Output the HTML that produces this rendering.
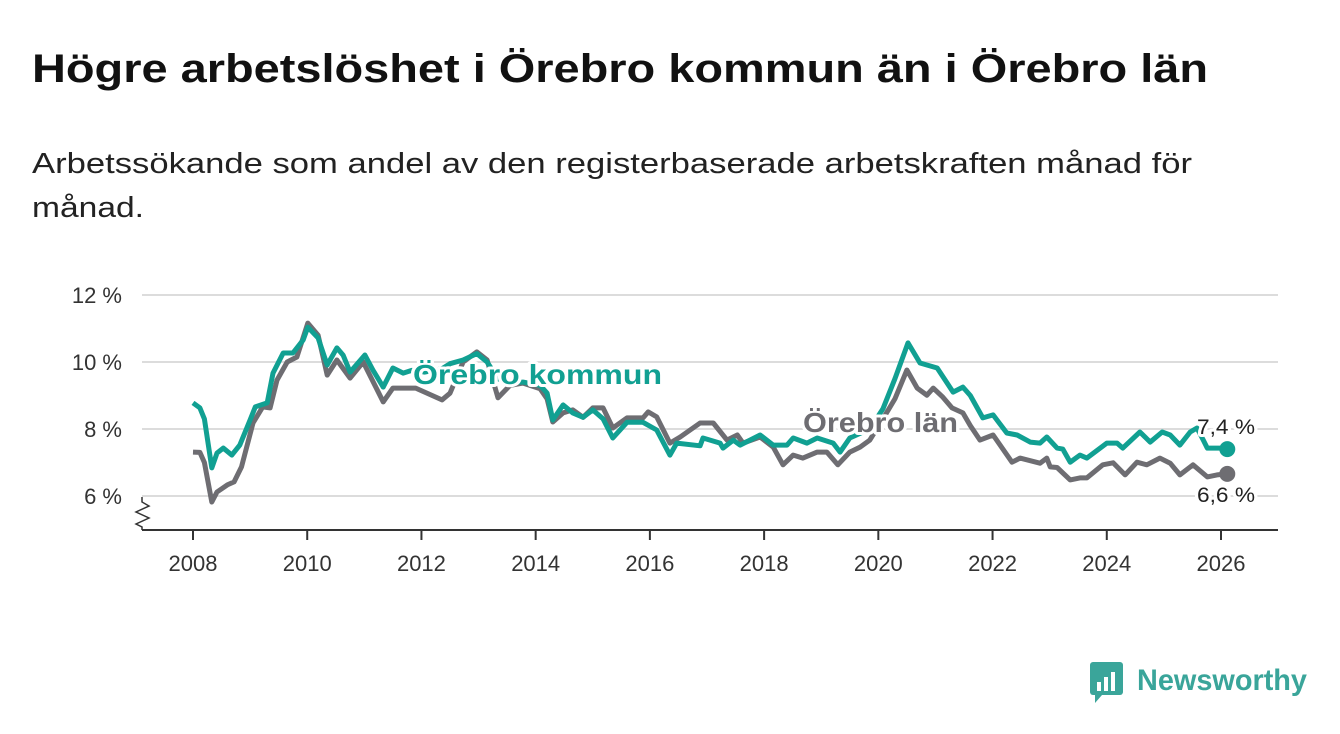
<!DOCTYPE html>
<html><head><meta charset="utf-8"><style>
html,body{margin:0;padding:0;background:#fff;}
svg{display:block;font-family:"Liberation Sans","DejaVu Sans",sans-serif;}
</style></head><body>
<svg id="chart" width="1340" height="734" viewBox="0 0 1340 734">
<text x="32" y="82" font-size="40" font-weight="bold" fill="#111" textLength="1176" lengthAdjust="spacingAndGlyphs">Högre arbetslöshet i Örebro kommun än i Örebro län</text>
<text x="32" y="173" font-size="29" fill="#222" textLength="1160" lengthAdjust="spacingAndGlyphs">Arbetssökande som andel av den registerbaserade arbetskraften månad för</text>
<text x="32" y="217" font-size="29" fill="#222" textLength="112" lengthAdjust="spacingAndGlyphs">månad.</text>
<g id="grid"></g><g id="axes"></g><g id="lines"></g><g id="labels"></g>
<g>
<rect x="1090" y="662" width="33" height="33" rx="3" fill="#3aa59a"/>
<polygon points="1095,695 1102,695 1095,703" fill="#3aa59a"/>
<rect x="1097" y="682" width="4" height="9" fill="#fff"/><rect x="1104" y="677" width="4" height="14" fill="#fff"/><rect x="1111" y="672" width="4" height="19" fill="#fff"/>
<text x="1137" y="690" font-size="30" font-weight="bold" fill="#3aa59a" textLength="170" lengthAdjust="spacingAndGlyphs">Newsworthy</text>
</g>
</svg>
<script>
const yTicks=[6,8,10,12];
const yTickLabels=["6 %","8 %","10 %","12 %"];
const xTicks=[2008,2010,2012,2014,2016,2018,2020,2022,2024,2026];
const kommunYears=[2008.0,2008.12,2008.2,2008.33,2008.42,2008.53,2008.68,2008.82,2009.0,2009.09,2009.30,2009.40,2009.58,2009.75,2009.93,2010.01,2010.19,2010.35,2010.52,2010.63,2010.75,2011.01,2011.15,2011.33,2011.50,2011.68,2011.83,2012.06,2012.36,2012.5,2012.73,2012.97,2013.15,2013.34,2013.55,2013.78,2014.08,2014.20,2014.30,2014.48,2014.65,2014.83,2015.0,2015.18,2015.35,2015.6,2015.88,2016.12,2016.35,2016.47,2016.88,2016.93,2017.23,2017.28,2017.46,2017.58,2017.93,2018.16,2018.40,2018.51,2018.75,2018.93,2019.21,2019.33,2019.50,2019.85,2020.08,2020.29,2020.52,2020.73,2021.03,2021.31,2021.48,2021.61,2021.83,2022.01,2022.25,2022.43,2022.66,2022.83,2022.95,2023.13,2023.23,2023.36,2023.53,2023.65,2024.0,2024.18,2024.28,2024.58,2024.76,2024.97,2025.11,2025.28,2025.46,2025.58,2025.69,2025.76,2025.98,2026.11];
const kommunValues=[8.78,8.63,8.3,6.84,7.28,7.43,7.22,7.52,8.27,8.66,8.78,9.67,10.27,10.27,10.66,11.04,10.72,9.91,10.42,10.2,9.70,10.21,9.76,9.25,9.82,9.67,9.75,9.7,9.8,9.95,10.06,10.25,10.0,9.5,9.4,9.4,9.3,9.07,8.27,8.72,8.48,8.35,8.57,8.3,7.73,8.2,8.2,7.97,7.22,7.58,7.5,7.73,7.58,7.43,7.67,7.52,7.82,7.52,7.52,7.73,7.58,7.73,7.58,7.31,7.73,8.0,8.6,9.5,10.57,9.97,9.82,9.1,9.25,9.0,8.33,8.42,7.88,7.82,7.61,7.58,7.76,7.43,7.4,7.01,7.22,7.13,7.58,7.58,7.43,7.91,7.61,7.91,7.82,7.52,7.91,8.03,7.67,7.43,7.43,7.40];
const lanYears=[2008.0,2008.12,2008.2,2008.33,2008.42,2008.6,2008.72,2008.85,2009.05,2009.22,2009.35,2009.47,2009.65,2009.82,2010.01,2010.19,2010.35,2010.52,2010.75,2010.98,2011.33,2011.5,2011.9,2012.36,2012.5,2012.73,2012.97,2013.15,2013.34,2013.55,2013.78,2014.08,2014.2,2014.30,2014.48,2014.65,2014.83,2015.0,2015.18,2015.35,2015.6,2015.88,2015.97,2016.12,2016.35,2016.53,2016.88,2017.11,2017.35,2017.53,2017.63,2017.93,2018.16,2018.33,2018.51,2018.68,2018.93,2019.10,2019.29,2019.50,2019.68,2019.85,2020.08,2020.29,2020.50,2020.68,2020.85,2020.96,2021.13,2021.29,2021.48,2021.61,2021.78,2022.01,2022.34,2022.48,2022.83,2022.95,2023.01,2023.13,2023.36,2023.53,2023.65,2023.93,2024.11,2024.32,2024.53,2024.70,2024.93,2025.11,2025.28,2025.51,2025.76,2025.93,2026.11];
const lanValues=[7.31,7.3,7.0,5.82,6.12,6.33,6.42,6.87,8.18,8.66,8.63,9.46,10.0,10.15,11.16,10.8,9.61,10.06,9.52,10.0,8.81,9.22,9.22,8.87,9.07,10.0,10.3,10.06,8.93,9.3,9.37,9.2,8.9,8.21,8.48,8.57,8.35,8.63,8.63,8.03,8.33,8.33,8.51,8.36,7.58,7.76,8.18,8.18,7.67,7.82,7.58,7.76,7.46,6.93,7.22,7.13,7.31,7.31,6.93,7.31,7.46,7.67,8.3,8.9,9.76,9.22,9.01,9.22,8.95,8.63,8.48,8.1,7.67,7.82,7.01,7.13,6.98,7.13,6.87,6.85,6.48,6.54,6.54,6.93,6.99,6.63,7.01,6.93,7.13,6.98,6.63,6.93,6.57,6.63,6.66];

const NS='http://www.w3.org/2000/svg';
function X(yr){return 193+(yr-2008)*(1028/18);}
function Y(v){return 496-(v-6)*33.5;}
function mk(tag,attrs,parent){const e=document.createElementNS(NS,tag);for(const k in attrs)e.setAttribute(k,attrs[k]);parent.appendChild(e);return e;}
const grid=document.getElementById('grid'),axes=document.getElementById('axes'),lines=document.getElementById('lines'),labels=document.getElementById('labels');
yTicks.forEach((t,i)=>{
  const l=mk('line',{x1:142,x2:1278,y1:Y(t),y2:Y(t),stroke:'#dcdcdc','stroke-width':2},grid);
  
  
  const tx=mk('text',{x:122,y:Y(t)+8,'font-size':22,fill:'#333','text-anchor':'end'},axes);
  tx.textContent=yTickLabels[i];
  
  
});
const ax=mk('line',{x1:142,x2:1278,y1:530,y2:530,stroke:'#333','stroke-width':2},axes);


const br=mk('polyline',{points:'142,497 142,502 149,506 136,512 149,518 136,524 142,527 142,530',fill:'none',stroke:'#333','stroke-width':1.5},axes);


xTicks.forEach(t=>{
  mk('line',{x1:X(t),x2:X(t),y1:530,y2:540,stroke:'#333','stroke-width':2},axes);
  const tx=mk('text',{x:X(t),y:571,'font-size':22,fill:'#333','text-anchor':'middle'},axes);
  tx.textContent=t;
  
  
});
function path(ys,vs){return ys.map((y,i)=>(i?'L':'M')+X(y).toFixed(1)+','+Y(vs[i]).toFixed(1)).join('');}
const gl=mk('path',{d:path(lanYears,lanValues),fill:'none',stroke:'#6e6d72','stroke-width':5,'stroke-linejoin':'round'},lines);


const tl=mk('path',{d:path(kommunYears,kommunValues),fill:'none',stroke:'#11a092','stroke-width':5,'stroke-linejoin':'round'},lines);


const gLast=lanYears.length-1,kLast=kommunYears.length-1;
const gd=mk('circle',{cx:X(lanYears[gLast]),cy:Y(lanValues[gLast]),r:8,fill:'#6e6d72'},lines);


const kd=mk('circle',{cx:X(kommunYears[kLast]),cy:Y(kommunValues[kLast]),r:8,fill:'#11a092'},lines);


function lab(txt,x,y,size,color,weight,name,len){
  const t=mk('text',{x:x,y:y,'font-size':size,fill:color,'font-weight':weight,stroke:'#fff','stroke-width':6,'paint-order':'stroke','stroke-linejoin':'round',textLength:len,lengthAdjust:'spacingAndGlyphs'},labels);
  t.textContent=txt;
  
  
}
lab('Örebro kommun',413,384,28,'#11a092','bold','kommun-series-label',249);
lab('Örebro län',803,432,28,'#6e6d72','bold','lan-series-label',155);
lab('7,4 %',1197,434,21,'#222','normal','kommun-end-value',58);
lab('6,6 %',1197,502,21,'#222','normal','lan-end-value',58);
</script>
</body></html>
